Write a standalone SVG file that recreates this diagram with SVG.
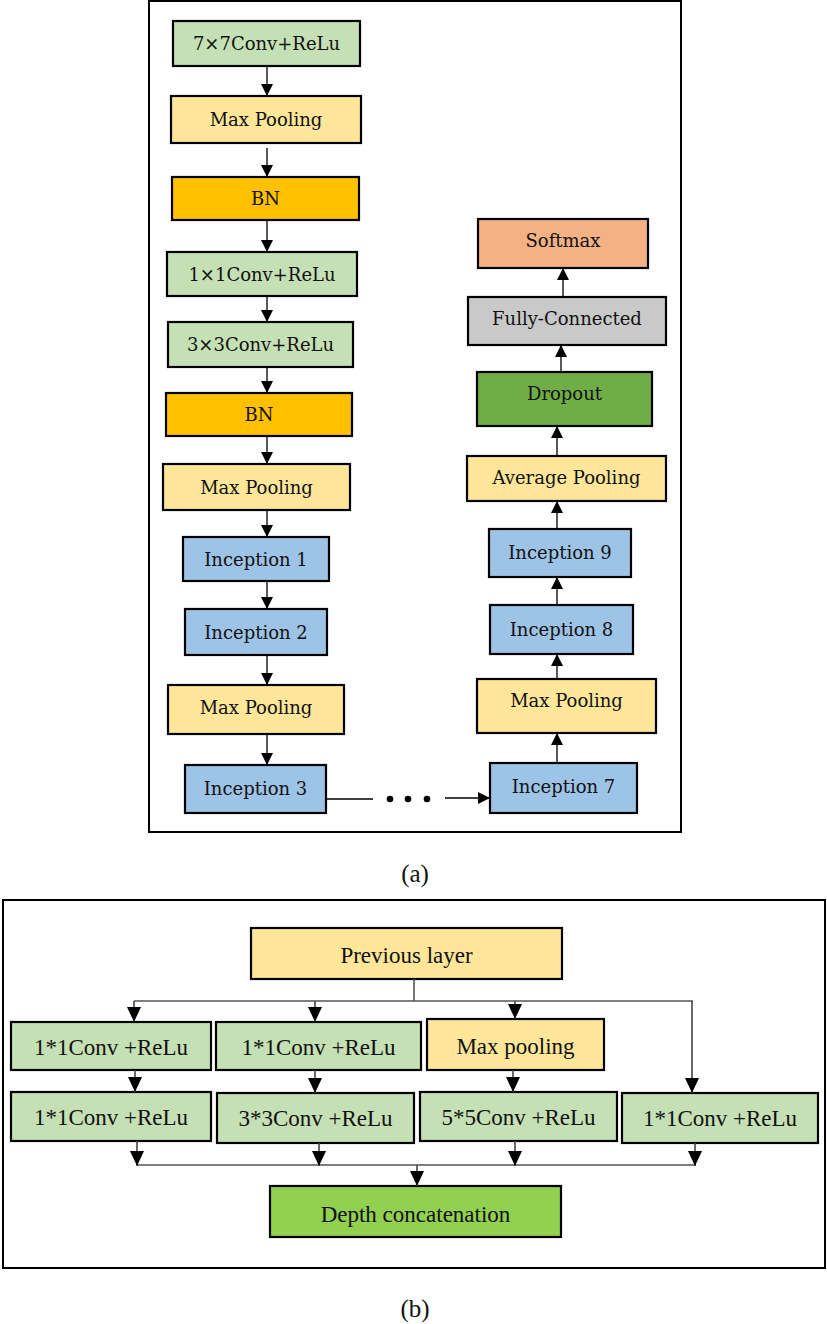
<svg xmlns="http://www.w3.org/2000/svg" width="827" height="1324" viewBox="0 0 827 1324">
<defs>
<marker id="ah" markerUnits="userSpaceOnUse" markerWidth="12" markerHeight="12" viewBox="0 0 12 12" refX="12" refY="6" orient="auto">
<path d="M0,0 L12,6 L0,12 Z" fill="#000"/>
</marker>
<marker id="ahb" markerUnits="userSpaceOnUse" markerWidth="15" markerHeight="14" viewBox="0 0 15 14" refX="15" refY="7" orient="auto">
<path d="M0,0 L15,7 L0,14 Z" fill="#000"/>
</marker>
<style>
.frame{fill:#fff;stroke:#000;stroke-width:2}
.box{stroke:#000;stroke-width:2.2}
.t{font-family:"DejaVu Serif","Liberation Serif",serif;font-size:18px;fill:#111;text-anchor:middle}
.tb{font-family:"Liberation Serif","Times New Roman",serif;font-size:23px;fill:#111;text-anchor:middle}
.cap{font-family:"Liberation Serif","Times New Roman",serif;font-size:25px;fill:#111;text-anchor:middle}
.conv{fill:#C5E0B4}
.pool{fill:#FFE699}
.bn{fill:#FFC000}
.inc{fill:#9DC3E6}
.soft{fill:#F4B183}
.fc{fill:#C9C9C9}
.drop{fill:#70AD47}
.depth{fill:#92D050}
.a{stroke:#000;stroke-width:1.3;fill:none;marker-end:url(#ah)}
.l{stroke:#000;stroke-width:1.3;fill:none}
.ab{stroke:#444;stroke-width:1.6;fill:none;marker-end:url(#ahb)}
.lb{stroke:#555;stroke-width:1.6;fill:none}
</style>
</defs>

<rect class="frame" x="149" y="1" width="532" height="831"/>
<rect class="frame" x="3" y="900" width="822" height="368"/>

<g id="n1"><rect class="box conv" x="173" y="21" width="187" height="45"/><text class="t" x="266.5" y="50">7×7Conv+ReLu</text></g>
<g id="n2"><rect class="box pool" x="171" y="96" width="190" height="47"/><text class="t" x="266" y="125.5">Max Pooling</text></g>
<g id="n3"><rect class="box bn" x="172" y="177" width="187" height="43"/><text class="t" x="265.5" y="204.5">BN</text></g>
<g id="n4"><rect class="box conv" x="167" y="252" width="190" height="44"/><text class="t" x="262" y="280.5">1×1Conv+ReLu</text></g>
<g id="n5"><rect class="box conv" x="168" y="322" width="185" height="45"/><text class="t" x="260.5" y="350.5">3×3Conv+ReLu</text></g>
<g id="n6"><rect class="box bn" x="166" y="393" width="186" height="43"/><text class="t" x="259" y="420.5">BN</text></g>
<g id="n7"><rect class="box pool" x="163" y="464" width="187" height="46"/><text class="t" x="256.5" y="493.5">Max Pooling</text></g>
<g id="n8"><rect class="box inc" x="183" y="537" width="146" height="44"/><text class="t" x="256" y="565.5">Inception 1</text></g>
<g id="n9"><rect class="box inc" x="185" y="609" width="142" height="46"/><text class="t" x="256" y="638.5">Inception 2</text></g>
<g id="n10"><rect class="box pool" x="168" y="685" width="176" height="49"/><text class="t" x="256" y="713.5">Max Pooling</text></g>
<g id="n11"><rect class="box inc" x="185" y="765" width="141" height="48"/><text class="t" x="255.5" y="794.5">Inception 3</text></g>

<g id="n12"><rect class="box inc" x="490" y="763" width="147" height="50"/><text class="t" x="563.5" y="792.5">Inception 7</text></g>
<g id="n13"><rect class="box pool" x="477" y="679" width="179" height="54"/><text class="t" x="566.5" y="706.5">Max Pooling</text></g>
<g id="n14"><rect class="box inc" x="490" y="605" width="143" height="49"/><text class="t" x="561.5" y="635.5">Inception 8</text></g>
<g id="n15"><rect class="box inc" x="489" y="529" width="142" height="48"/><text class="t" x="560" y="558.5">Inception 9</text></g>
<g id="n16"><rect class="box pool" x="467" y="456" width="199" height="45"/><text class="t" x="566.5" y="483.5">Average Pooling</text></g>
<g id="n17"><rect class="box drop" x="477" y="372" width="175" height="54"/><text class="t" x="564.5" y="399.5">Dropout</text></g>
<g id="n18"><rect class="box fc" x="468" y="297" width="198" height="48"/><text class="t" x="567" y="324.5">Fully-Connected</text></g>
<g id="n19"><rect class="box soft" x="478" y="219" width="170" height="49"/><text class="t" x="563" y="246.5">Softmax</text></g>

<g id="b1"><rect class="box pool" x="251" y="928" width="311" height="51"/><text class="tb" x="406.5" y="963">Previous layer</text></g>
<g id="b2"><rect class="box conv" x="11" y="1022" width="200" height="48"/><text class="tb" x="111" y="1055">1*1Conv +ReLu</text></g>
<g id="b3"><rect class="box conv" x="216" y="1022" width="205" height="48"/><text class="tb" x="318.5" y="1055">1*1Conv +ReLu</text></g>
<g id="b4"><rect class="box pool" x="427" y="1019" width="177" height="51"/><text class="tb" x="515.5" y="1054">Max pooling</text></g>
<g id="b5"><rect class="box conv" x="11" y="1092" width="200" height="49"/><text class="tb" x="111" y="1125">1*1Conv +ReLu</text></g>
<g id="b6"><rect class="box conv" x="217" y="1093" width="197" height="50"/><text class="tb" x="315.5" y="1126">3*3Conv +ReLu</text></g>
<g id="b7"><rect class="box conv" x="420" y="1092" width="197" height="49"/><text class="tb" x="518.5" y="1125">5*5Conv +ReLu</text></g>
<g id="b8"><rect class="box conv" x="622" y="1093" width="196" height="50"/><text class="tb" x="720" y="1126">1*1Conv +ReLu</text></g>
<g id="b9"><rect class="box depth" x="270" y="1186" width="291" height="51"/><text class="tb" x="415.5" y="1222">Depth concatenation</text></g>

<g id="connectors">
<line class="a" x1="267" y1="66" x2="267" y2="96"/>
<line class="a" x1="267" y1="148" x2="267" y2="177"/>
<line class="a" x1="267" y1="220" x2="267" y2="252"/>
<line class="a" x1="267" y1="296" x2="267" y2="322"/>
<line class="a" x1="267" y1="367" x2="267" y2="393"/>
<line class="a" x1="267" y1="436" x2="267" y2="464"/>
<line class="a" x1="267" y1="510" x2="267" y2="537"/>
<line class="a" x1="267" y1="581" x2="267" y2="609"/>
<line class="a" x1="267" y1="655" x2="267" y2="685"/>
<line class="a" x1="267" y1="734" x2="267" y2="765"/>
<line class="l" x1="326" y1="799" x2="373" y2="799"/>
<circle cx="390" cy="799" r="3.3" fill="#000"/>
<circle cx="408" cy="799" r="3.3" fill="#000"/>
<circle cx="427" cy="799" r="3.3" fill="#000"/>
<line class="a" x1="445" y1="798" x2="490" y2="798"/>
<line class="a" x1="557" y1="763" x2="557" y2="733"/>
<line class="a" x1="557" y1="679" x2="557" y2="654"/>
<line class="a" x1="557" y1="605" x2="557" y2="577"/>
<line class="a" x1="557" y1="529" x2="557" y2="501"/>
<line class="a" x1="557" y1="456" x2="557" y2="426"/>
<line class="a" x1="561" y1="372" x2="561" y2="345"/>
<line class="a" x1="563" y1="297" x2="563" y2="268"/>

<line class="lb" x1="414" y1="979" x2="414" y2="1001"/>
<line class="lb" x1="134" y1="1001" x2="693" y2="1001"/>
<line class="ab" x1="134" y1="1001" x2="134" y2="1022"/>
<line class="ab" x1="315" y1="1001" x2="315" y2="1022"/>
<line class="ab" x1="515" y1="1001" x2="515" y2="1019"/>
<line class="ab" x1="692" y1="1001" x2="692" y2="1093"/>
<line class="ab" x1="135" y1="1070" x2="135" y2="1092"/>
<line class="ab" x1="315" y1="1070" x2="315" y2="1093"/>
<line class="ab" x1="513" y1="1070" x2="513" y2="1092"/>
<line class="lb" x1="137" y1="1165" x2="696" y2="1165"/>
<line class="ab" x1="137" y1="1141" x2="137" y2="1166"/>
<line class="ab" x1="319" y1="1143" x2="319" y2="1166"/>
<line class="ab" x1="515" y1="1141" x2="515" y2="1166"/>
<line class="ab" x1="695" y1="1143" x2="695" y2="1166"/>
<line class="ab" x1="417" y1="1165" x2="417" y2="1186"/>
</g>

<text class="cap" x="415" y="882">(a)</text>
<text class="cap" x="415" y="1317">(b)</text>
</svg>
